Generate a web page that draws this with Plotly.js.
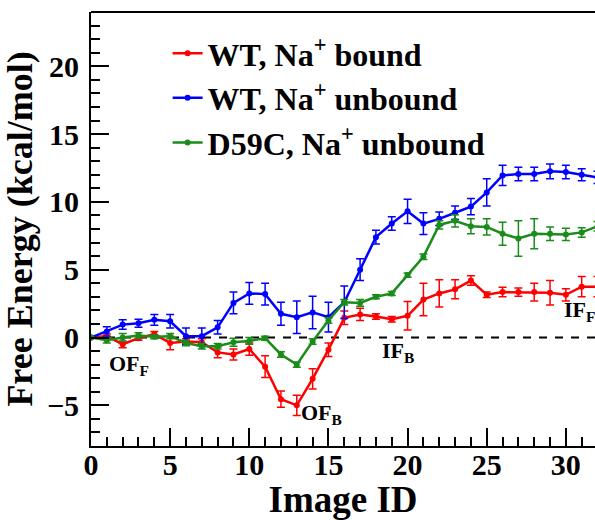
<!DOCTYPE html>
<html>
<head>
<meta charset="utf-8">
<script src="https://cdn.plot.ly/plotly-3.0.1.min.js"></script>
<style>html,body{margin:0;padding:0;overflow:hidden;background:#fff}</style>
</head>
<body>
<div id="chart" style="width:595px;height:520px"></div>
<script>
const imageIds = [0,1,2,3,4,5,6,7,8,9,10,11,12,13,14,15,16,17,18,19,20,21,22,23,24,25,26,27,28,29,30,31,32];

const wtBound = [0, 0.1, -0.5, -0.05, 0.25, -0.4, -0.3, -0.35, -1.1, -1.25, -0.85, -2.15, -4.55, -5.0, -3.05, -0.9, 1.45, 1.7, 1.55, 1.35, 1.6, 2.8, 3.25, 3.55, 4.2, 3.15, 3.35, 3.35, 3.35, 3.3, 3.15, 3.75, 3.75];
const wtBoundErr = [0, 0.15, 0.25, 0.15, 0.2, 0.5, 0.2, 0.25, 0.4, 0.4, 0.45, 0.8, 0.6, 0.75, 0.75, 0.5, 0.5, 0.45, 0.2, 0.2, 1.05, 1.2, 1.0, 0.7, 0.35, 0.2, 0.35, 0.3, 0.65, 0.9, 0.45, 0.75, 0.75];

const wtUnbound = [0, 0.45, 0.95, 1.05, 1.3, 1.2, 0.1, 0.1, 0.75, 2.55, 3.25, 3.2, 1.75, 1.5, 1.85, 1.5, 2.6, 5.0, 7.4, 8.4, 9.3, 8.4, 8.75, 9.2, 9.65, 10.7, 11.95, 12.05, 12.05, 12.25, 12.2, 12.0, 11.8];
const wtUnboundErr = [0, 0.35, 0.35, 0.3, 0.4, 0.5, 0.6, 0.6, 0.5, 0.8, 0.8, 0.8, 0.85, 1.2, 1.2, 1.1, 1.2, 0.8, 0.5, 0.5, 0.9, 0.8, 0.5, 0.5, 0.6, 1.0, 0.75, 0.5, 0.5, 0.55, 0.5, 0.45, 0.45];

const d59cUnbound = [0, -0.2, 0, 0.15, 0.05, 0.1, -0.4, -0.65, -0.65, -0.35, -0.25, -0.05, -1.25, -2.0, -0.3, 1.25, 2.6, 2.55, 3.0, 3.25, 4.6, 5.95, 8.3, 8.6, 8.2, 8.15, 7.65, 7.3, 7.65, 7.65, 7.6, 7.75, 8.2];
const d59cUnboundErr = [0, 0.2, 0.3, 0.2, 0.15, 0.2, 0.2, 0.2, 0.2, 0.3, 0.25, 0.15, 0.2, 0.2, 0.2, 0.2, 0.2, 0.25, 0.15, 0.15, 0.15, 0.2, 0.3, 0.45, 0.55, 0.6, 0.85, 1.3, 1.1, 0.5, 0.45, 0.35, 0.35];

const seriesNames = ['WT, Na<sup>+</sup> bound', 'WT, Na<sup>+</sup> unbound', 'D59C, Na<sup>+</sup> unbound'];
const seriesColors = ['#ff0000', '#0000ff', '#1a8c1a'];
const stateLabels = ['OF<sub>F</sub>', 'OF<sub>B</sub>', 'IF<sub>B</sub>', 'IF<sub>F</sub>'];
const stateX = [1.0, 13.15, 18.25, 29.75];
const stateY = [-2.05, -5.65, -1.05, 1.95];

const yValues = [wtBound, wtUnbound, d59cUnbound];
const yErrors = [wtBoundErr, wtUnboundErr, d59cUnboundErr];

const serif = '"Liberation Serif", "Times New Roman", serif';

const traces = yValues.map((ys, i) => ({
  type: 'scatter',
  mode: 'lines+markers',
  x: imageIds,
  y: ys,
  name: seriesNames[i],
  legendgroup: 'g' + i,
  line: {color: seriesColors[i], width: 2.5},
  marker: {color: seriesColors[i], size: 6},
  error_y: {type: 'data', array: yErrors[i], visible: true, color: seriesColors[i], thickness: 1.5, width: 4}
}));

const annotations = stateLabels.map((t, i) => ({
  x: stateX[i], y: stateY[i], xref: 'x', yref: 'y',
  text: t, showarrow: false, xanchor: 'left', yanchor: 'middle',
  font: {family: serif, size: 22, color: '#000', weight: 'bold'}
}));

const layout = {
  width: 595, height: 520,
  margin: {l: 91, r: 0, t: 12, b: 74},
  paper_bgcolor: '#fff', plot_bgcolor: '#fff',
  showlegend: true,
  legend: {
    x: 0.152, y: 0.968, xanchor: 'left', yanchor: 'top',
    bgcolor: 'rgba(0,0,0,0)', borderwidth: 0,
    traceorder: 'grouped', tracegroupgap: 0,
    font: {family: serif, size: 32, color: '#000', weight: 'bold'}
  },
  xaxis: {
    range: [0, 31.84], showgrid: false, zeroline: false,
    showline: true, linecolor: '#000', linewidth: 2,
    ticks: 'inside', ticklen: 18, tickwidth: 2, tickcolor: '#000',
    dtick: 5, tick0: 0, ticklabelstandoff: -9,
    minor: {ticks: 'inside', dtick: 1, ticklen: 9, tickwidth: 2, tickcolor: '#000', showgrid: false},
    tickfont: {family: serif, size: 30, color: '#000', weight: 'bold'},
    title: {text: 'Image ID', standoff: 4, font: {family: serif, size: 37, color: '#000', weight: 'bold'}}
  },
  yaxis: {
    range: [-8, 24], showgrid: false, zeroline: false,
    showline: true, linecolor: '#000', linewidth: 2,
    ticks: 'inside', ticklen: 18, tickwidth: 2, tickcolor: '#000',
    dtick: 5, tick0: 0, ticklabelstandoff: 4,
    minor: {ticks: 'inside', dtick: 1, ticklen: 9, tickwidth: 2, tickcolor: '#000', showgrid: false},
    tickfont: {family: serif, size: 30, color: '#000', weight: 'bold'},
    title: {text: 'Free Energy (kcal/mol)', standoff: 4, font: {family: serif, size: 36, color: '#000', weight: 'bold'}}
  },
  shapes: [
    {type: 'line', xref: 'paper', yref: 'y', x0: 0, x1: 1, y0: 0, y1: 0, line: {color: '#000', width: 2, dash: '8px,8px'}, layer: 'below'},
    {type: 'line', xref: 'paper', yref: 'paper', x0: 0, x1: 1, y0: 1, y1: 1, line: {color: '#000', width: 2}}
  ],
  annotations: annotations
};

Plotly.newPlot('chart', traces, layout, {displayModeBar: false, staticPlot: true});
</script>
</body>
</html>
